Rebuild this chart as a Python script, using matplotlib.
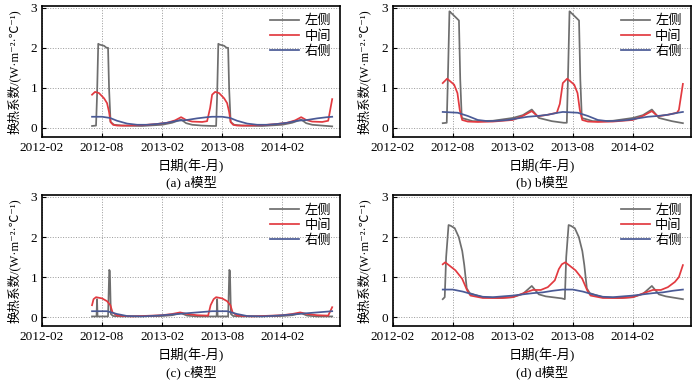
import matplotlib
matplotlib.use("Agg")
import matplotlib.pyplot as plt

plt.rcParams['font.family'] = ['Liberation Serif', 'Noto Sans CJK SC', 'DejaVu Sans']
plt.rcParams['axes.unicode_minus'] = False

# x axis: months counted from 2012-02
tick_pos = [0, 6, 12, 18, 24]
tick_lab = ["2012-02", "2012-08", "2013-02", "2013-08", "2014-02"]
names = ["左侧", "中间", "右侧"]
captions = ["(a) a模型", "(b) b模型", "(c) c模型", "(d) d模型"]

# (a)
a_left_x = [5.0, 5.4, 5.5, 5.62, 5.75, 6.2, 6.45, 6.6, 6.7, 6.85, 7.2, 8.0, 10.0, 12.0, 13.0, 13.9, 14.4, 15.0, 16.0, 17.0,
            17.4, 17.5, 17.62, 17.75, 18.2, 18.45, 18.6, 18.7, 18.85, 19.2, 20.0, 22.0, 24.0, 25.0, 25.9, 26.4, 27.0, 28.0, 29.0]
a_left_y = [0.05, 0.06, 0.8, 2.1, 2.08, 2.05, 2.0, 2.0, 1.0, 0.15, 0.08, 0.06, 0.05, 0.08, 0.13, 0.21, 0.12, 0.08, 0.06, 0.05,
            0.05, 0.8, 2.1, 2.08, 2.05, 2.0, 2.0, 1.0, 0.15, 0.08, 0.06, 0.05, 0.08, 0.13, 0.21, 0.12, 0.08, 0.06, 0.04]
a_mid_x = [5.0, 5.3, 5.7, 6.2, 6.5, 6.7, 6.85, 7.1, 7.5, 8.5, 10.0, 11.5, 12.5, 13.3, 13.9, 14.4, 15.0, 16.0, 16.5, 16.8,
           17.0, 17.3, 17.7, 18.2, 18.5, 18.7, 18.85, 19.1, 19.5, 20.5, 22.0, 23.5, 24.5, 25.3, 25.9, 26.4, 27.0, 28.0, 28.6, 29.0]
a_mid_y = [0.83, 0.9, 0.87, 0.74, 0.62, 0.4, 0.15, 0.08, 0.06, 0.06, 0.07, 0.1, 0.13, 0.19, 0.27, 0.2, 0.16, 0.15, 0.17, 0.5,
           0.83, 0.9, 0.87, 0.74, 0.62, 0.4, 0.15, 0.08, 0.06, 0.06, 0.07, 0.1, 0.13, 0.19, 0.27, 0.2, 0.16, 0.15, 0.18, 0.72]
a_right_x = [5.0, 6.0, 6.8, 7.5, 8.5, 9.5, 10.5, 11.5, 12.5, 13.5, 14.5, 15.5, 16.5, 17.0,
             18.0, 18.8, 19.5, 20.5, 21.5, 22.5, 23.5, 24.5, 25.5, 26.5, 27.5, 28.5, 29.0]
a_right_y = [0.28, 0.28, 0.25, 0.18, 0.11, 0.08, 0.08, 0.1, 0.13, 0.18, 0.2, 0.24, 0.27, 0.28,
             0.28, 0.25, 0.18, 0.11, 0.08, 0.08, 0.1, 0.13, 0.18, 0.2, 0.24, 0.27, 0.28]

# (b)
b_left_x = [5.0, 5.4, 5.54, 5.67, 5.8, 6.34, 6.54, 6.62, 6.75, 6.9, 8.0, 10.0, 12.0, 13.0, 13.9, 14.6, 15.9, 17.1,
            17.4, 17.54, 17.67, 17.8, 18.34, 18.54, 18.62, 18.75, 18.9, 20.0, 22.0, 24.0, 25.0, 25.9, 26.6, 27.9, 29.0]
b_left_y = [0.12, 0.13, 1.5, 2.91, 2.88, 2.75, 2.7, 2.68, 1.2, 0.25, 0.17, 0.18, 0.25, 0.32, 0.46, 0.25, 0.17, 0.13,
            0.13, 1.5, 2.91, 2.88, 2.75, 2.7, 2.68, 1.2, 0.25, 0.17, 0.18, 0.25, 0.32, 0.46, 0.25, 0.17, 0.12]
b_mid_x = [5.0, 5.44, 6.14, 6.47, 6.7, 6.94, 7.5, 8.5, 10.0, 12.0, 13.0, 13.9, 14.5, 15.5, 16.4, 16.7, 17.0,
           17.44, 18.14, 18.47, 18.7, 18.94, 19.5, 20.5, 22.0, 24.0, 25.0, 25.9, 26.5, 27.5, 28.4, 28.6, 29.0]
b_mid_y = [1.12, 1.23, 1.08, 0.87, 0.45, 0.2, 0.16, 0.15, 0.16, 0.2, 0.3, 0.42, 0.29, 0.33, 0.38, 0.6, 1.12,
           1.23, 1.08, 0.87, 0.45, 0.2, 0.16, 0.15, 0.16, 0.2, 0.3, 0.42, 0.29, 0.33, 0.38, 0.45, 1.1]
b_right_x = [5.0, 6.5, 7.5, 8.5, 9.5, 10.5, 11.5, 12.5, 13.5, 14.5, 15.5, 16.5, 17.0,
             18.5, 19.5, 20.5, 21.5, 22.5, 23.5, 24.5, 25.5, 26.5, 27.5, 28.5, 29.0]
b_right_y = [0.4, 0.38, 0.3, 0.2, 0.17, 0.18, 0.2, 0.24, 0.28, 0.3, 0.33, 0.38, 0.4,
             0.38, 0.3, 0.2, 0.17, 0.18, 0.2, 0.24, 0.28, 0.3, 0.33, 0.38, 0.4]

# (c)
c_left_x = [5.0, 5.45, 5.5, 5.55, 6.6, 6.72, 6.78, 6.88, 7.1, 8.0, 12.0, 13.0, 13.9, 14.5, 15.5, 17.0,
            17.45, 17.5, 17.55, 18.6, 18.72, 18.78, 18.88, 19.1, 20.0, 24.0, 25.0, 25.9, 26.5, 27.5, 29.0]
c_left_y = [0.02, 0.02, 0.45, 0.02, 0.02, 1.18, 1.15, 0.08, 0.03, 0.02, 0.03, 0.05, 0.1, 0.04, 0.02, 0.02,
            0.02, 0.45, 0.02, 0.02, 1.18, 1.15, 0.08, 0.03, 0.02, 0.03, 0.05, 0.1, 0.04, 0.02, 0.02]
c_mid_x = [5.0, 5.15, 5.4, 6.0, 6.5, 6.83, 7.05, 7.5, 9.0, 12.0, 13.0, 13.8, 14.5, 15.5, 16.6, 16.85,
           17.15, 17.4, 18.0, 18.5, 18.83, 19.05, 19.5, 21.0, 24.0, 25.0, 25.8, 26.5, 27.5, 28.6, 29.0]
c_mid_y = [0.3, 0.45, 0.5, 0.47, 0.4, 0.3, 0.12, 0.04, 0.02, 0.05, 0.08, 0.12, 0.08, 0.05, 0.04, 0.3,
           0.45, 0.5, 0.47, 0.4, 0.3, 0.12, 0.04, 0.02, 0.05, 0.08, 0.12, 0.08, 0.05, 0.04, 0.25]
c_right_x = [5.0, 6.5, 7.5, 8.5, 10.0, 11.5, 12.5, 13.5, 14.5, 15.5, 16.5, 17.0,
             18.5, 19.5, 20.5, 22.0, 23.5, 24.5, 25.5, 26.5, 27.5, 28.5, 29.0]
c_right_y = [0.15, 0.15, 0.08, 0.03, 0.02, 0.04, 0.06, 0.08, 0.1, 0.12, 0.14, 0.15,
             0.15, 0.08, 0.03, 0.02, 0.04, 0.06, 0.08, 0.1, 0.12, 0.14, 0.15]

# (d)
d_left_x = [5.0, 5.2, 5.34, 5.58, 5.8, 6.2, 6.6, 6.95, 7.15, 7.4, 7.7, 8.3, 9.0, 10.5, 12.0, 13.0, 13.9, 14.6, 15.3, 16.9, 17.2,
            17.34, 17.58, 17.8, 18.2, 18.6, 18.95, 19.15, 19.4, 19.7, 20.3, 21.0, 22.5, 24.0, 25.0, 25.9, 26.6, 27.3, 29.0]
d_left_y = [0.45, 0.5, 1.5, 2.3, 2.28, 2.22, 2.0, 1.65, 1.3, 0.72, 0.6, 0.55, 0.5, 0.48, 0.5, 0.58, 0.78, 0.57, 0.52, 0.47, 0.45,
            1.5, 2.3, 2.28, 2.22, 2.0, 1.65, 1.3, 0.72, 0.6, 0.55, 0.5, 0.48, 0.5, 0.58, 0.78, 0.57, 0.52, 0.45]
d_mid_x = [5.0, 5.25, 6.27, 6.94, 7.44, 7.77, 9.0, 11.0, 12.0, 13.3, 14.0, 14.8, 15.5, 16.2, 16.6, 16.9,
           17.25, 18.27, 18.94, 19.44, 19.77, 21.0, 23.0, 24.0, 25.3, 26.0, 26.8, 27.5, 28.2, 28.6, 29.0]
d_mid_y = [1.32, 1.37, 1.17, 0.96, 0.67, 0.54, 0.48, 0.48, 0.5, 0.62, 0.68, 0.68, 0.75, 0.92, 1.2, 1.32,
           1.37, 1.17, 0.96, 0.67, 0.54, 0.48, 0.48, 0.5, 0.62, 0.68, 0.68, 0.75, 0.88, 1.0, 1.3]
d_right_x = [5.0, 6.0, 7.0, 8.0, 9.0, 10.0, 11.0, 12.0, 13.0, 14.0, 15.0, 16.0, 17.0,
             18.0, 19.0, 20.0, 21.0, 22.0, 23.0, 24.0, 25.0, 26.0, 27.0, 28.0, 29.0]
d_right_y = [0.69, 0.69, 0.64, 0.57, 0.51, 0.5, 0.52, 0.54, 0.57, 0.6, 0.62, 0.66, 0.69,
             0.69, 0.64, 0.57, 0.51, 0.5, 0.52, 0.54, 0.57, 0.6, 0.62, 0.66, 0.69]

panels = [
    [(a_left_x, a_left_y), (a_mid_x, a_mid_y), (a_right_x, a_right_y)],
    [(b_left_x, b_left_y), (b_mid_x, b_mid_y), (b_right_x, b_right_y)],
    [(c_left_x, c_left_y), (c_mid_x, c_mid_y), (c_right_x, c_right_y)],
    [(d_left_x, d_left_y), (d_mid_x, d_mid_y), (d_right_x, d_right_y)],
]
colors = ["#6e6e6e", "#e23a40", "#4a5a96"]

fig = plt.figure(figsize=(7, 3.8), dpi=100)
boxes = [
    [0.060, 0.640, 0.426, 0.345],
    [0.561, 0.640, 0.426, 0.345],
    [0.060, 0.142, 0.426, 0.345],
    [0.561, 0.142, 0.426, 0.345],
]

for i in range(4):
    ax = fig.add_axes(boxes[i])
    for k in range(3):
        xs, ys = panels[i][k]
        ax.plot(xs, ys, color=colors[k], lw=1.25, label=names[k])
    ax.set_xlim(0, 29.8)
    ax.set_ylim(-0.22, 3.05)
    ax.set_xticks(tick_pos)
    ax.set_xticklabels(tick_lab)
    ax.set_yticks([0, 1, 2, 3])
    ax.tick_params(direction="in", labelsize=9.5, length=3, width=0.8)
    ax.grid(True, linestyle=":", color="#999999", linewidth=0.7)
    for s in ax.spines.values():
        s.set_linewidth(1.2)
    ax.text(-0.095, 0.5, "换热系数/(W·m⁻²·℃⁻¹)", rotation=90, ha="center", va="center",
            fontsize=9, transform=ax.transAxes)
    ax.text(0.5, -0.22, "日期(年-月)", ha="center", va="center", fontsize=9.5, transform=ax.transAxes)
    ax.text(0.5, -0.35, captions[i], ha="center", va="center", fontsize=9.5, transform=ax.transAxes)
    ax.legend(loc="upper right", frameon=False, fontsize=9.5, handlelength=2.2,
              labelspacing=0.2, borderaxespad=0.3, handletextpad=0.4)

fig.savefig("out.png", dpi=100)
